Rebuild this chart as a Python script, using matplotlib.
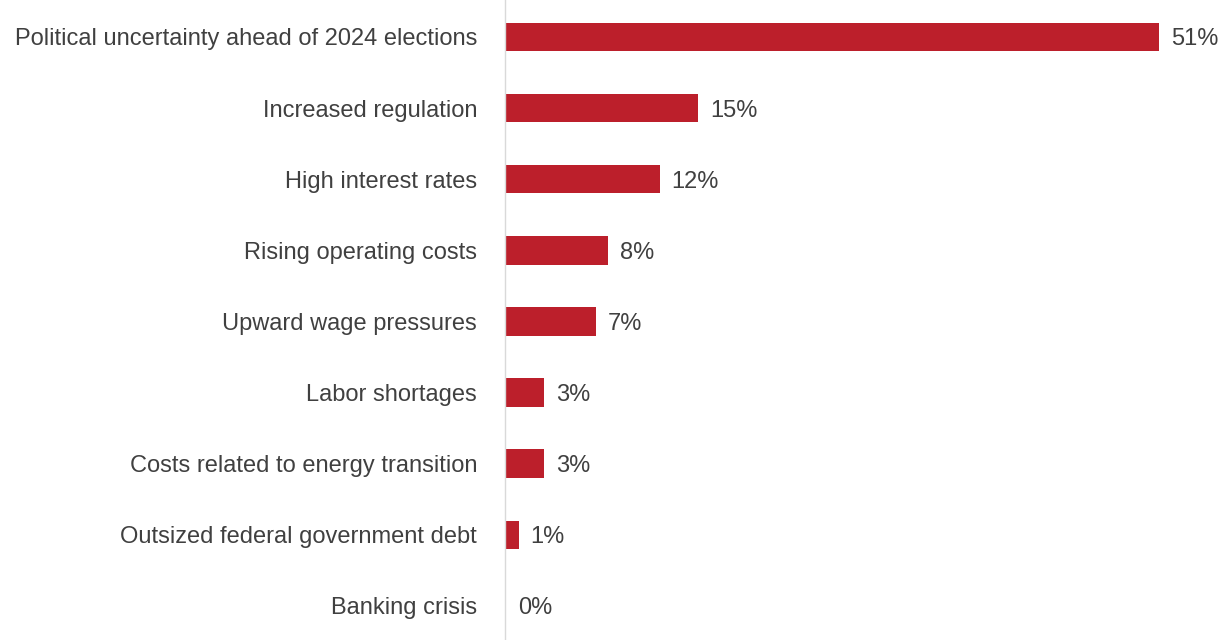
import matplotlib
matplotlib.use("Agg")
import matplotlib.pyplot as plt

categories = [
    "Political uncertainty ahead of 2024 elections",
    "Increased regulation",
    "High interest rates",
    "Rising operating costs",
    "Upward wage pressures",
    "Labor shortages",
    "Costs related to energy transition",
    "Outsized federal government debt",
    "Banking crisis",
]
values = [51, 15, 12, 8, 7, 3, 3, 1, 0]
value_labels = ["51%", "15%", "12%", "8%", "7%", "3%", "3%", "1%", "0%"]

BAR_COLOR = "#BC1F2B"
TEXT_COLOR = "#404040"

plt.rcParams["font.family"] = ["Liberation Sans", "DejaVu Sans"]

fig = plt.figure(figsize=(12.2, 6.4), dpi=100)
ax = fig.add_axes([505 / 1220, 0.0, 1 - 505 / 1220, 1.0])

ypos = list(range(len(categories)))
ax.barh(ypos, values, height=0.4, color=BAR_COLOR, left=0.08)

for y, v, lab in zip(ypos, values, value_labels):
    ax.annotate(lab, xy=(v + 0.08, y), xytext=(8.5, 0), textcoords="offset points",
                va="center_baseline", ha="left", fontsize=17, color=TEXT_COLOR)

ax.set_xlim(0, 55.86)
ax.set_ylim(8.48, -0.52)
ax.set_yticks(ypos)
ax.set_yticklabels(categories, fontsize=17, color=TEXT_COLOR, va="center_baseline")
ax.tick_params(axis="y", length=0, pad=20)
ax.set_xticks([])

for side in ("top", "right", "bottom"):
    ax.spines[side].set_visible(False)
ax.spines["left"].set_color("#D9D9D9")
ax.spines["left"].set_linewidth(1.0)

fig.savefig("out.png", dpi=100)
